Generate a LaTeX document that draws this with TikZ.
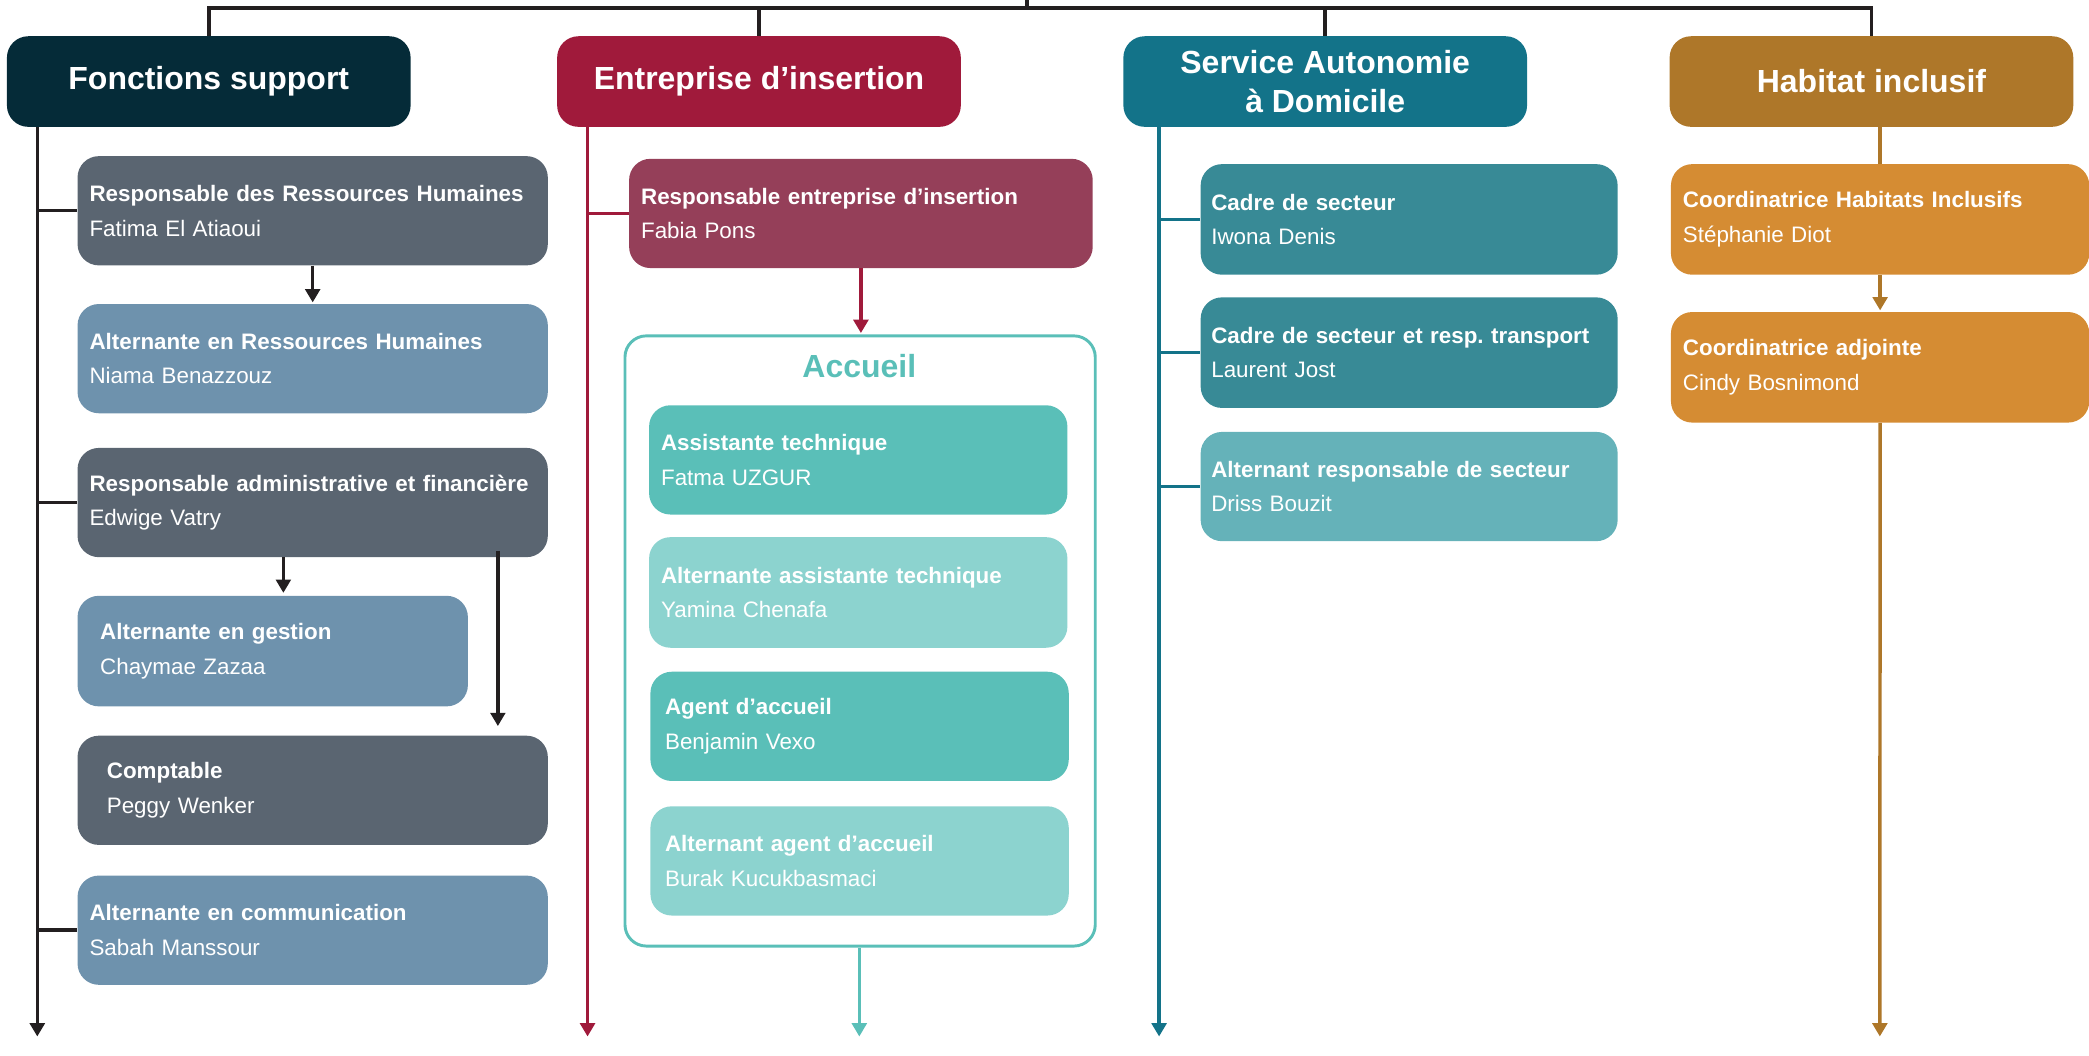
\documentclass[tikz,border=0pt]{standalone}
\usepackage{fontspec}
\setmainfont{Liberation Sans}
\usetikzlibrary{arrows.meta}

\definecolor{fsdark}{HTML}{052B38}
\definecolor{fsline}{HTML}{231F20}
\definecolor{slate}{HTML}{5A6571}
\definecolor{steel}{HTML}{6E92AD}
\definecolor{eired}{HTML}{A01A3B}
\definecolor{plum}{HTML}{953F59}
\definecolor{tealA}{HTML}{5ABFB8}
\definecolor{tealB}{HTML}{8CD3CF}
\definecolor{petrol}{HTML}{137389}
\definecolor{petrolA}{HTML}{388A96}
\definecolor{petrolB}{HTML}{65B2B9}
\definecolor{ochre}{HTML}{AE7729}
\definecolor{ochreA}{HTML}{D58C33}

\newcommand{\post}[2]{{\bfseries #1}\\#2}

\begin{document}
\begin{tikzpicture}[x=1pt,y=-1pt,
  head/.style={fill=#1,text=white,rounded corners=16pt,minimum width=303pt,minimum height=68pt,inner sep=0pt,anchor=north west,align=center,font=\fontsize{24}{29}\selectfont\bfseries},
  postbox/.style={fill=#1,text=white,rounded corners=16pt,minimum height=82pt,inner xsep=9pt,inner ysep=0pt,anchor=north west,align=left,font=\fontsize{16.8}{26}\selectfont},
  frame/.style={draw=tealA,line width=2.2pt,rounded corners=16pt,minimum width=353pt,minimum height=458pt,inner sep=0pt,anchor=north west},
  link/.style={line width=2.6pt,draw=#1},
  tip/.style={-{Triangle[width=11pt,length=10pt]}},
]
\useasboundingbox (0,0) rectangle (1568,792);

% headers
\node[head=fsdark] (fs) at (5,27) {Fonctions support};
\node[head=eired] (ei) at (418,27) {Entreprise d’insertion};
\node[head=petrol] (sad) at (843,27) {Service Autonomie\\à Domicile};
\node[head=ochre] (hi) at (1253,27) {Habitat inclusif};

% top bus
\coordinate (top) at (771,0);
\coordinate (bus) at (771,6);
\draw[link=fsline] (top) -- (bus);
\draw[link=fsline] (fs.north) |- (bus) -| (hi.north);
\draw[link=fsline] (ei.north) -- (ei.north |- bus);
\draw[link=fsline] (sad.north) -- (sad.north |- bus);

% Fonctions support
\node[postbox=slate,text width=335pt] (rrh) at (58,117) {\post{Responsable des Ressources Humaines}{Fatima El Atiaoui}};
\node[postbox=steel,text width=335pt] (arh) at (58,228) {\post{Alternante en Ressources Humaines}{Niama Benazzouz}};
\node[postbox=slate,text width=335pt] (raf) at (58,336) {\post{Responsable administrative et financière}{Edwige Vatry}};
\node[postbox=steel,inner xsep=17pt,text width=259pt,minimum height=83pt] (aeg) at (58,447) {\post{Alternante en gestion}{Chaymae Zazaa}};
\node[postbox=slate,inner xsep=22pt,text width=309pt] (cpt) at (58,552) {\post{Comptable}{Peggy Wenker}};
\node[postbox=steel,text width=335pt] (aec) at (58,657) {\post{Alternante en communication}{Sabah Manssour}};

\coordinate (fs-end) at (28,778);
\draw[link=fsline,tip] (fs.south west -| fs-end) -- (fs-end);
\foreach \b in {rrh,raf,aec}
  \draw[link=fsline] (fs-end |- \b.west) -- (\b.west);
\draw[link=fsline,tip,shorten >=1pt] (rrh.south) -- (arh.north);
\draw[link=fsline,tip,shorten >=2pt] ([xshift=-22pt]raf.south) -- ([xshift=-22pt]raf.south |- aeg.north);
\draw[link=fsline,tip,shorten >=7pt] ([xshift=139pt,yshift=5pt]raf.south) -- ([xshift=139pt]raf.south |- cpt.north);

% Entreprise d'insertion
\node[postbox=plum,text width=330pt] (rei) at (472,119) {\post{Responsable entreprise d’insertion}{Fabia Pons}};
\node[frame] (acc) at (468,251) {};
\node[text=tealA,font=\fontsize{24}{29}\selectfont\bfseries] (acc-title) at (645,275) {Accueil};
\node[postbox=tealA,text width=296pt] (ast) at (487,304) {\post{Assistante technique}{Fatma UZGUR}};
\node[postbox=tealB,text width=296pt,minimum height=83pt] (aat) at (487,403) {\post{Alternante assistante technique}{Yamina Chenafa}};
\node[postbox=tealA,inner xsep=11pt,text width=292pt] (aga) at (488,504) {\post{Agent d’accueil}{Benjamin Vexo}};
\node[postbox=tealB,inner xsep=11pt,text width=292pt] (aaa) at (488,605) {\post{Alternant agent d’accueil}{Burak Kucukbasmaci}};

\coordinate (ei-end) at (441,778);
\draw[link=eired,tip] (ei.south west -| ei-end) -- (ei-end);
\draw[link=eired] (ei-end |- rei.west) -- (rei.west);
\draw[link=eired,tip,shorten >=1pt] (rei.south) -- (rei.south |- acc.north);
\coordinate (acc-end) at (645,778);
\draw[link=tealA,tip] (acc.south -| acc-end) -- (acc-end);

% Service Autonomie a Domicile
\node[postbox=petrolA,inner xsep=8pt,text width=297pt,minimum height=83pt] (cds) at (901,123) {\post{Cadre de secteur}{Iwona Denis}};
\node[postbox=petrolA,inner xsep=8pt,text width=297pt,minimum height=83pt] (cdt) at (901,223) {\post{Cadre de secteur et resp.\ transport}{Laurent Jost}};
\node[postbox=petrolB,inner xsep=8pt,text width=297pt] (ars) at (901,324) {\post{Alternant responsable de secteur}{Driss Bouzit}};

\coordinate (sad-end) at (870,778);
\draw[link=petrol,tip] (sad.south west -| sad-end) -- (sad-end);
\foreach \b in {cds,cdt,ars}
  \draw[link=petrol] (sad-end |- \b.west) -- (\b.west);

% Habitat inclusif
\node[postbox=ochreA,text width=296pt,minimum height=83pt] (chi) at (1254,123) {\post{Coordinatrice Habitats Inclusifs}{Stéphanie Diot}};
\node[postbox=ochreA,text width=296pt,minimum height=83pt] (cad) at (1254,234) {\post{Coordinatrice adjointe}{Cindy Bosnimond}};

\coordinate (hi-end) at (1411,778);
\draw[link=ochre] (hi.south -| chi.north) -- (chi.north);
\draw[link=ochre,tip,shorten >=1pt] (chi.south) -- (cad.north);
\draw[link=ochre,tip] (cad.south) -- (hi-end);
\end{tikzpicture}
\end{document}
